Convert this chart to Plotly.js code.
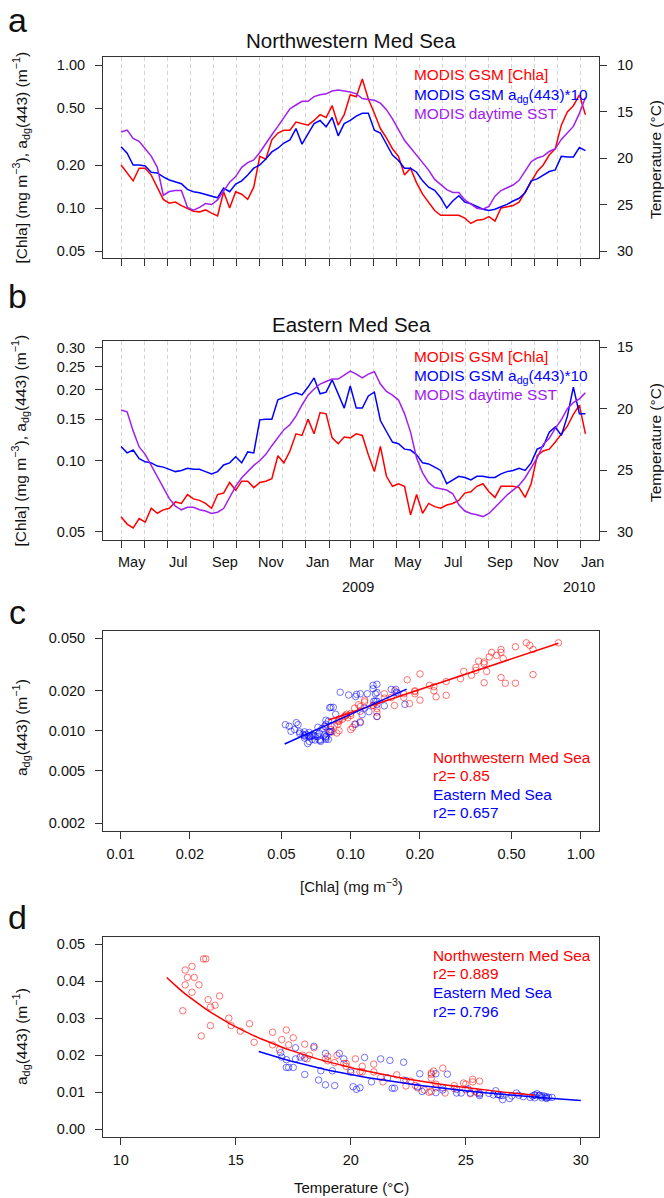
<!DOCTYPE html>
<html><head><meta charset="utf-8">
<script src="https://cdn.plot.ly/plotly-3.0.1.min.js"></script>
<style>html,body{margin:0;padding:0;background:#fff;}#chart{width:664px;height:1198px;}</style>
</head><body><div id="chart"></div>
<script>
// ---------- DATA ----------
const dates = [
'2008-05-01','2008-05-09','2008-05-17','2008-05-25','2008-06-02','2008-06-10','2008-06-18','2008-06-26','2008-07-04','2008-07-12',
'2008-07-20','2008-07-28','2008-08-05','2008-08-13','2008-08-21','2008-08-29','2008-09-06','2008-09-14','2008-09-22','2008-09-30',
'2008-10-08','2008-10-16','2008-10-24','2008-11-01','2008-11-09','2008-11-17','2008-11-25','2008-12-03','2008-12-11','2008-12-19',
'2008-12-27','2009-01-04','2009-01-12','2009-01-20','2009-01-28','2009-02-05','2009-02-13','2009-02-21','2009-03-01','2009-03-09',
'2009-03-17','2009-03-25','2009-04-02','2009-04-10','2009-04-18','2009-04-26','2009-05-04','2009-05-12','2009-05-20','2009-05-28',
'2009-06-05','2009-06-13','2009-06-21','2009-06-29','2009-07-07','2009-07-15','2009-07-23','2009-07-31','2009-08-08','2009-08-16',
'2009-08-24','2009-09-01','2009-09-09','2009-09-17','2009-09-25','2009-10-03','2009-10-11','2009-10-19','2009-10-27','2009-11-04',
'2009-11-12','2009-11-20','2009-11-28','2009-12-06','2009-12-14','2009-12-22','2009-12-30','2010-01-07'];

// Northwestern Med Sea
const nwChla = [0.20,0.176,0.155,0.19,0.19,0.17,0.14,0.115,0.108,0.11,
 0.104,0.10,0.095,0.094,0.097,0.092,0.088,0.13,0.10,0.13,
 0.125,0.115,0.14,0.23,0.22,0.30,0.335,0.35,0.35,0.40,
 0.39,0.38,0.41,0.45,0.43,0.52,0.38,0.45,0.62,0.60,
 0.80,0.58,0.46,0.36,0.31,0.26,0.23,0.17,0.19,0.15,
 0.125,0.11,0.096,0.089,0.089,0.088,0.089,0.085,0.078,0.082,
 0.083,0.087,0.081,0.10,0.102,0.104,0.11,0.13,0.155,0.18,
 0.20,0.235,0.26,0.38,0.47,0.52,0.62,0.45];
const nwAdg10 = [0.268,0.242,0.20,0.20,0.197,0.178,0.176,0.165,0.157,0.152,
 0.148,0.135,0.13,0.128,0.125,0.122,0.118,0.138,0.13,0.147,
 0.155,0.17,0.19,0.20,0.22,0.247,0.262,0.285,0.30,0.36,
 0.28,0.33,0.39,0.41,0.37,0.43,0.32,0.39,0.41,0.44,
 0.46,0.46,0.35,0.335,0.28,0.235,0.215,0.19,0.19,0.178,
 0.155,0.14,0.133,0.118,0.10,0.112,0.122,0.11,0.107,0.102,
 0.098,0.096,0.098,0.102,0.106,0.112,0.117,0.128,0.155,0.16,
 0.17,0.18,0.185,0.23,0.228,0.228,0.265,0.252];
const nwSST = [17.2,17.0,17.9,18.2,19.0,19.8,21.0,24.0,23.6,23.5,
 23.5,25.3,25.6,25.3,24.9,25.0,24.5,23.5,22.6,22.0,
 21.0,20.5,20.2,19.4,18.4,17.5,16.6,15.6,14.7,14.3,
 13.9,13.9,13.4,13.2,13.1,12.8,12.7,12.8,12.9,13.1,
 13.6,13.7,13.8,14.1,14.8,15.8,16.9,18.1,18.9,19.7,
 20.5,21.3,22.3,22.8,23.4,23.7,23.7,24.5,25.0,25.4,
 25.5,25.2,24.1,23.5,23.2,22.9,22.4,21.4,20.4,20.0,
 19.8,19.3,19.0,18.0,17.3,16.6,15.2,13.5];

// Eastern Med Sea
const eChla = [0.058,0.054,0.052,0.057,0.055,0.063,0.060,0.062,0.063,0.067,
 0.066,0.072,0.069,0.068,0.066,0.063,0.072,0.073,0.081,0.075,
 0.082,0.082,0.077,0.081,0.082,0.084,0.105,0.098,0.110,0.130,
 0.128,0.150,0.130,0.160,0.158,0.125,0.118,0.126,0.125,0.130,
 0.128,0.106,0.090,0.115,0.086,0.078,0.080,0.078,0.059,0.072,
 0.060,0.066,0.064,0.063,0.065,0.066,0.068,0.073,0.074,0.078,
 0.080,0.074,0.070,0.078,0.078,0.078,0.077,0.070,0.080,0.105,
 0.110,0.112,0.120,0.130,0.140,0.157,0.172,0.130];
const eAdg10 = [0.115,0.108,0.111,0.102,0.099,0.098,0.095,0.094,0.092,0.090,
 0.091,0.093,0.092,0.092,0.090,0.088,0.090,0.096,0.098,0.104,
 0.098,0.109,0.108,0.149,0.150,0.150,0.181,0.186,0.190,0.194,
 0.190,0.205,0.224,0.192,0.195,0.220,0.190,0.167,0.207,0.167,
 0.167,0.188,0.195,0.148,0.133,0.120,0.118,0.112,0.111,0.106,
 0.098,0.097,0.094,0.091,0.080,0.083,0.086,0.085,0.083,0.086,
 0.086,0.085,0.085,0.088,0.090,0.091,0.093,0.091,0.098,0.112,
 0.115,0.132,0.139,0.128,0.154,0.205,0.158,0.158];
const eSST = [20.1,20.25,21.8,23.1,23.7,24.6,25.6,26.4,27.3,27.9,
 28.2,28.0,28.0,28.2,28.3,28.5,28.4,28.1,27.2,26.3,
 25.6,25.1,24.6,24.2,23.7,23.0,22.3,21.7,21.3,20.6,
 19.7,18.9,18.4,18.0,17.8,17.6,17.6,17.3,16.95,17.2,
 17.5,17.2,17.0,18.0,18.6,18.9,19.3,20.4,21.9,24.0,
 25.2,26.0,26.4,26.5,26.6,26.9,27.8,28.3,28.5,28.6,
 28.75,28.5,28.0,27.5,27.0,26.6,26.2,25.6,24.8,24.0,
 22.9,22.4,21.6,20.9,20.0,19.5,19.2,18.7];

// regression fits: log10(adg) = A + B*log10(chla)  (panel c)
const nwChlaFit = [-1.284, 0.579];
const eChlaFit = [-1.096, 0.78];
const nwChlaFitRange = [0.08, 0.80];
const eChlaFitRange = [0.0516, 0.175];
// adg = a * T^b  (panel d)
const nwTempFit = [3.284, -1.764];
const eTempFit = [1.659, -1.576];
const nwTempFitRange = [12, 28];
const eTempFitRange = [16, 30];
const r2Chla = ['0.85', '0.657'];
const r2Temp = ['0.889', '0.796'];

// ticks / labels
const monthTicks = ['2008-05-01','2008-06-01','2008-07-01','2008-08-01','2008-09-01','2008-10-01','2008-11-01','2008-12-01',
 '2009-01-01','2009-02-01','2009-03-01','2009-04-01','2009-05-01','2009-06-01','2009-07-01','2009-08-01','2009-09-01',
 '2009-10-01','2009-11-01','2009-12-01','2010-01-01'];
const monthLabelDates = ['2008-05-16','2008-07-16','2008-09-16','2008-11-16','2009-01-16','2009-03-16','2009-05-16','2009-07-16','2009-09-16','2009-11-16','2010-01-16'];
const monthLabels = ['May','Jul','Sep','Nov','Jan','Mar','May','Jul','Sep','Nov','Jan'];
const yearLabelDates = ['2009-03-11','2009-12-29'];
const yearLabels = ['2009','2010'];
const ticksA = [0.05,0.1,0.2,0.5,1];
const ticksAText = ['0.05','0.10','0.20','0.50','1.00'];
const ticksB = [0.05,0.1,0.15,0.2,0.25,0.3];
const ticksBText = ['0.05','0.10','0.15','0.20','0.25','0.30'];
const tempTicksA = [10,15,20,25,30];
const tempTicksB = [15,20,25,30];
const chlaTicksC = [0.01,0.02,0.05,0.1,0.2,0.5,1];
const chlaTicksCText = ['0.01','0.02','0.05','0.10','0.20','0.50','1.00'];
const adgTicksC = [0.002,0.005,0.01,0.02,0.05];
const adgTicksCText = ['0.002','0.005','0.010','0.020','0.050'];
const tempTicksD = [10,15,20,25,30];
const adgTicksD = [0,0.01,0.02,0.03,0.04,0.05];
const adgTicksDText = ['0.00','0.01','0.02','0.03','0.04','0.05'];

// ---------- derived ----------
const nwAdg = nwAdg10.map(v => v / 10);
const eAdg = eAdg10.map(v => v / 10);
function sampleRange(lo, hi, n) { const out = []; for (let i = 0; i < n; i++) out.push(lo + (hi - lo) * i / (n - 1)); return out; }
function logLogLine(coef, range) {
  const lx = sampleRange(Math.log10(range[0]), Math.log10(range[1]), 30);
  return { x: lx.map(v => 10 ** v), y: lx.map(v => 10 ** (coef[0] + coef[1] * v)) };
}
function powerLine(coef, range) {
  const xx = sampleRange(range[0], range[1], 60);
  return { x: xx, y: xx.map(t => coef[0] * Math.pow(t, coef[1])) };
}

// ---------- layout helpers ----------
const W = 664, H = 1198;
const px = x => x / W, py = y => 1 - y / H;
const RED = '#ff0000', BLUE = '#0000ff', PURPLE = '#a020f0';
const FONT = 'Liberation Sans, Arial, Helvetica, sans-serif';
const dom = (top, bot) => [py(bot), py(top)];
const XD = [px(103), px(599)];

const base = {
  showline: true, mirror: true, linecolor: '#333', linewidth: 1,
  ticks: 'outside', ticklen: 7, tickcolor: '#333', tickwidth: 1,
  zeroline: false, showgrid: false, tickfont: { size: 14.5, color: '#111', family: FONT }
};
const dateAxis = (anchor) => Object.assign({}, base, {
  domain: XD, anchor, type: 'date', range: ['2008-04-07', '2010-01-25'],
  tickmode: 'array', tickvals: monthTicks, showticklabels: false,
  showgrid: true, gridcolor: '#d4d4d4', griddash: '4px,3px', gridwidth: 1
});

const traces = [];
const line = (x, y, xa, ya, color) => ({ x, y, xaxis: xa, yaxis: ya, type: 'scatter', mode: 'lines', line: { color, width: 1.5 }, hoverinfo: 'skip' });
const pts = (x, y, xa, ya, color) => ({ x, y, xaxis: xa, yaxis: ya, type: 'scatter', mode: 'markers',
  marker: { symbol: 'circle-open', size: 6.5, color, line: { width: 1, color } }, hoverinfo: 'skip' });

// panel a
traces.push(line(dates, nwChla, 'x', 'y', RED));
traces.push(line(dates, nwAdg10, 'x', 'y', BLUE));
traces.push(line(dates, nwSST, 'x', 'y2', PURPLE));
// panel b
traces.push(line(dates, eChla, 'x2', 'y3', RED));
traces.push(line(dates, eAdg10, 'x2', 'y3', BLUE));
traces.push(line(dates, eSST, 'x2', 'y4', PURPLE));
// panel c
traces.push(pts(nwChla, nwAdg, 'x3', 'y5', 'rgba(255,0,0,0.55)'));
traces.push(pts(eChla, eAdg, 'x3', 'y5', 'rgba(0,0,255,0.55)'));
const fcN = logLogLine(nwChlaFit, nwChlaFitRange), fcE = logLogLine(eChlaFit, eChlaFitRange);
traces.push(line(fcN.x, fcN.y, 'x3', 'y5', RED));
traces.push(line(fcE.x, fcE.y, 'x3', 'y5', BLUE));
// panel d
traces.push(pts(nwSST, nwAdg, 'x4', 'y6', 'rgba(255,0,0,0.55)'));
traces.push(pts(eSST, eAdg, 'x4', 'y6', 'rgba(0,0,255,0.55)'));
const fdN = powerLine(nwTempFit, nwTempFitRange), fdE = powerLine(eTempFit, eTempFitRange);
traces.push(line(fdN.x, fdN.y, 'x4', 'y6', RED));
traces.push(line(fdE.x, fdE.y, 'x4', 'y6', BLUE));

const ann = [];
const A = (text, x, y, o = {}) => ann.push(Object.assign({
  text, x: px(x), y: py(y), xref: 'paper', yref: 'paper', showarrow: false,
  xanchor: 'center', yanchor: 'middle', borderpad: 0, font: { family: FONT, size: 15, color: '#111' }
}, o));
const big = { font: { family: FONT, size: 34, color: '#111' } };
A('a', 17.5, 20, big); A('b', 17.5, 296, big); A('c', 17.5, 611.5, big); A('d', 17.5, 916.5, big);
const ttl = { font: { family: FONT, size: 20.5, color: '#111' } };
A('Northwestern Med Sea', 351, 40.5, ttl);
A('Eastern Med Sea', 351, 324, ttl);
const leg = (c) => ({ xanchor: 'left', font: { family: FONT, size: 15.4, color: c } });
A('MODIS GSM [Chla]', 413, 75, leg(RED));
A('MODIS GSM a<sub>dg</sub>(443)*10', 413, 95, leg(BLUE));
A('MODIS daytime SST', 413, 113.5, leg(PURPLE));
A('MODIS GSM [Chla]', 413, 357, leg(RED));
A('MODIS GSM a<sub>dg</sub>(443)*10', 413, 376, leg(BLUE));
A('MODIS daytime SST', 413, 394.5, leg(PURPLE));
A('Northwestern Med Sea', 432, 757, leg(RED));
A('r2= ' + r2Chla[0], 432, 775.5, leg(RED));
A('Eastern Med Sea', 432, 794, leg(BLUE));
A('r2= ' + r2Chla[1], 432, 812.5, leg(BLUE));
A('Northwestern Med Sea', 432, 955, leg(RED));
A('r2= ' + r2Temp[0], 432, 973.5, leg(RED));
A('Eastern Med Sea', 432, 992.5, leg(BLUE));
A('r2= ' + r2Temp[1], 432, 1011.5, leg(BLUE));
const ylab = '[Chla] (mg m<sup>−3</sup>), a<sub>dg</sub>(443) (m<sup>−1</sup>)';
const rot = { textangle: -90, font: { family: FONT, size: 15.5, color: '#111' } };
A(ylab, 21, 157.5, rot);
A(ylab, 21, 440.5, rot);
A('Temperature (°C)', 655, 160, rot);
A('Temperature (°C)', 655, 443, rot);
A('a<sub>dg</sub>(443) (m<sup>−1</sup>)', 21, 728, rot);
A('a<sub>dg</sub>(443) (m<sup>−1</sup>)', 21, 1037, rot);
A('[Chla] (mg m<sup>−3</sup>)', 351, 885);
A('Temperature (°C)', 351, 1187);
monthLabels.forEach((m, i) => ann.push({ text: m, x: monthLabelDates[i], xref: 'x2', y: py(562), yref: 'paper',
  showarrow: false, xanchor: 'center', yanchor: 'middle', font: { family: FONT, size: 14.5, color: '#111' } }));
yearLabels.forEach((m, i) => ann.push({ text: m, x: yearLabelDates[i], xref: 'x2', y: py(587), yref: 'paper',
  showarrow: false, xanchor: 'center', yanchor: 'middle', font: { family: FONT, size: 14.5, color: '#111' } }));

const layout = {
  width: W, height: H, margin: { l: 0, r: 0, t: 0, b: 0 },
  paper_bgcolor: '#fff', plot_bgcolor: '#fff', showlegend: false,
  font: { family: FONT, color: '#111' },
  xaxis: dateAxis('y'),
  yaxis: Object.assign({}, base, { domain: dom(57, 258), anchor: 'x', type: 'log', range: [-1.3497, 0.0569],
    tickmode: 'array', tickvals: ticksA, ticktext: ticksAText, ticklabelstandoff: 7 }),
  yaxis2: Object.assign({}, base, { showline: false, mirror: false, overlaying: 'y', side: 'right', anchor: 'x',
    range: [30.75, 9.14], tickmode: 'array', tickvals: tempTicksA, ticklabelstandoff: 7 }),
  xaxis2: dateAxis('y3'),
  yaxis3: Object.assign({}, base, { domain: dom(341, 540), anchor: 'x2', type: 'log', range: [-1.335, -0.4935],
    tickmode: 'array', tickvals: ticksB, ticktext: ticksBText, ticklabelstandoff: 7 }),
  yaxis4: Object.assign({}, base, { showline: false, mirror: false, overlaying: 'y3', side: 'right', anchor: 'x2',
    range: [30.65, 14.51], tickmode: 'array', tickvals: tempTicksB, ticklabelstandoff: 7 }),
  xaxis3: Object.assign({}, base, { domain: XD, anchor: 'y5', type: 'log', range: [-2.0768, 0.0792],
    tickmode: 'array', tickvals: chlaTicksC, ticktext: chlaTicksCText, ticklabelstandoff: 3 }),
  yaxis5: Object.assign({}, base, { domain: dom(630.7, 830.7), anchor: 'x3', type: 'log', range: [-2.7545, -1.2457],
    tickmode: 'array', tickvals: adgTicksC, ticktext: adgTicksCText, ticklabelstandoff: 7 }),
  xaxis4: Object.assign({}, base, { domain: XD, anchor: 'y6', range: [9.23, 30.79],
    tickmode: 'array', tickvals: tempTicksD, ticklabelstandoff: 3 }),
  yaxis6: Object.assign({}, base, { domain: dom(936.7, 1136.7), anchor: 'x4', range: [-0.002, 0.052],
    tickmode: 'array', tickvals: adgTicksD, ticktext: adgTicksDText, ticklabelstandoff: 7 }),
  annotations: ann
};
Plotly.newPlot('chart', traces, layout, { displayModeBar: false, staticPlot: true });
</script></body></html>
